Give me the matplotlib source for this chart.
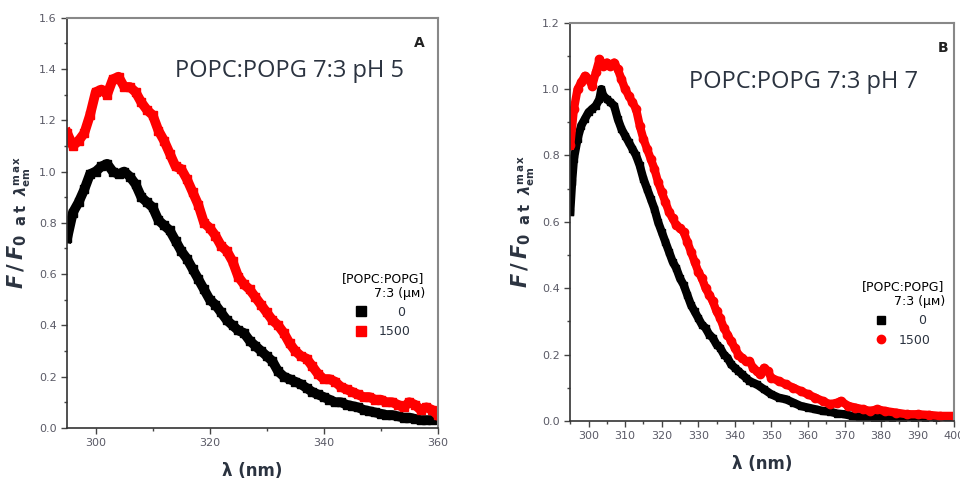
import numpy as np
import matplotlib
matplotlib.use('Agg')
import matplotlib.pyplot as plt
from matplotlib.ticker import MultipleLocator
from matplotlib.lines import Line2D

plt.rcParams['mathtext.fontset'] = 'custom'
plt.rcParams['mathtext.it'] = 'DejaVu Sans:bold:italic'
plt.rcParams['mathtext.rm'] = 'DejaVu Sans:bold'

# panel A, pH 5
wl_a = list(range(295, 360))
a_zero = [0.74, 0.84, 0.88, 0.93, 0.99, 1.00, 1.02, 1.03, 1.00, 0.99,
          1.00, 0.98, 0.95, 0.90, 0.88, 0.86, 0.81, 0.79, 0.77, 0.73,
          0.69, 0.66, 0.62, 0.58, 0.54, 0.50, 0.48, 0.45, 0.42, 0.40,
          0.38, 0.37, 0.34, 0.32, 0.30, 0.28, 0.26, 0.22, 0.20, 0.19,
          0.18, 0.17, 0.155, 0.14, 0.13, 0.12, 0.11, 0.10, 0.10, 0.09,
          0.085, 0.08, 0.07, 0.065, 0.06, 0.055, 0.05, 0.05, 0.045, 0.04,
          0.04, 0.035, 0.03, 0.03, 0.03]
wl_a_red = list(range(295, 361))
a_1500 = [1.15, 1.10, 1.12, 1.15, 1.22, 1.31, 1.32, 1.30, 1.36, 1.37,
          1.33, 1.33, 1.31, 1.27, 1.24, 1.22, 1.16, 1.12, 1.07, 1.02,
          1.01, 0.97, 0.92, 0.87, 0.80, 0.78, 0.75, 0.71, 0.69, 0.65,
          0.59, 0.56, 0.54, 0.51, 0.48, 0.45, 0.42, 0.40, 0.37, 0.33,
          0.30, 0.28, 0.27, 0.24, 0.21, 0.19, 0.19, 0.18, 0.16, 0.15,
          0.14, 0.13, 0.12, 0.12, 0.11, 0.11, 0.10, 0.10, 0.09, 0.08,
          0.10, 0.09, 0.07, 0.08, 0.07, 0.05]

# panel B, pH 7
wl_b = [295, 295.5, 296, 297, 298, 299, 300, 301, 302, 303, 303.5, 304, 305, 306,
        307, 308, 309, 310, 311, 312, 313, 314, 315, 316, 317, 318, 319, 320,
        321, 322, 323, 324, 325, 326, 327, 328, 329, 330, 331, 332, 333, 334,
        335, 336, 337, 338, 339, 340, 341, 342, 343, 344, 345, 346, 348, 350,
        352, 354, 356, 358, 360, 362, 364, 366, 368, 370, 372, 374, 376, 378,
        380, 383, 386, 389, 392, 395, 398, 400]
b_zero = [0.63, 0.72, 0.79, 0.85, 0.89, 0.91, 0.93, 0.94, 0.95, 0.97, 1.00, 0.98,
          0.97, 0.96, 0.95, 0.91, 0.88, 0.86, 0.84, 0.82, 0.80, 0.77, 0.73, 0.70,
          0.67, 0.64, 0.60, 0.57, 0.54, 0.51, 0.48, 0.46, 0.43, 0.41, 0.38, 0.35,
          0.33, 0.31, 0.29, 0.28, 0.26, 0.25, 0.23, 0.22, 0.20, 0.19, 0.17, 0.16,
          0.15, 0.14, 0.13, 0.12, 0.115, 0.11, 0.095, 0.08, 0.07, 0.065, 0.055,
          0.045, 0.04, 0.035, 0.03, 0.028, 0.022, 0.02, 0.015, 0.013, 0.012, 0.01,
          0.01, 0.008, 0.006, 0.005, 0.005, 0.008, 0.012, 0.012]
wl_b_red = list(range(295, 350)) + [350, 352, 354, 356, 358, 360, 362, 364, 366,
                                    368, 369, 371, 373, 375, 377, 379, 381, 384,
                                    387, 390, 393, 396, 400]
b_1500 = [0.83, 0.94, 1.00, 1.02, 1.04, 1.03, 1.01, 1.05, 1.09, 1.07, 1.08, 1.07,
          1.08, 1.06, 1.03, 1.00, 0.98, 0.96, 0.94, 0.89, 0.85, 0.82, 0.79, 0.76,
          0.72, 0.69, 0.66, 0.63, 0.61, 0.59, 0.58, 0.57, 0.54, 0.51, 0.48, 0.45,
          0.43, 0.40, 0.38, 0.36, 0.33, 0.31, 0.28, 0.26, 0.24, 0.22, 0.20, 0.19,
          0.18, 0.18, 0.16, 0.15, 0.14, 0.16, 0.15,
          0.13, 0.12, 0.11, 0.10, 0.09, 0.08, 0.07, 0.06, 0.05, 0.055, 0.06, 0.045,
          0.04, 0.035, 0.03, 0.035, 0.03, 0.025, 0.02, 0.02, 0.018, 0.015, 0.015]

tick_col = '#5a5a66'
text_col = '#2b3340'
narrow = ['Liberation Sans Narrow', 'DejaVu Sans']
ylab = r'$F\,/\,F_{\mathrm{0\ \ a\,t\ \ }\lambda_{\mathrm{em}}^{\mathrm{m\,a\,x}}}$'

fig = plt.figure(figsize=(9.6, 4.94), dpi=100)
ax_a = fig.add_axes([0.070, 0.134, 0.386, 0.830])
ax_b = fig.add_axes([0.594, 0.148, 0.400, 0.806])


def style(ax, xlim, ylim, xmaj, xmin):
	ax.set_xlim(*xlim)
	ax.set_ylim(*ylim)
	ax.xaxis.set_major_locator(MultipleLocator(xmaj))
	ax.xaxis.set_minor_locator(MultipleLocator(xmin))
	ax.yaxis.set_major_locator(MultipleLocator(0.2))
	ax.yaxis.set_minor_locator(MultipleLocator(0.1))
	ax.yaxis.set_major_formatter(matplotlib.ticker.FormatStrFormatter('%.1f'))
	ax.tick_params(which='both', direction='out', colors='#444444', labelcolor=tick_col,
	               labelsize=8, top=False, right=False)
	ax.tick_params(which='major', length=4, width=1)
	ax.tick_params(which='minor', length=2.5, width=1)
	for lab in ax.get_xticklabels() + ax.get_yticklabels():
		lab.set_family(narrow)
	for s in ['left', 'bottom']:
		ax.spines[s].set_color('#333333')
		ax.spines[s].set_linewidth(1.2)
	for s in ['top', 'right']:
		ax.spines[s].set_color('#888888')
		ax.spines[s].set_linewidth(1.5)
	ax.set_xlabel('λ (nm)', fontsize=12, fontweight='bold', color=text_col, family=narrow)
	ax.set_ylabel(ylab, fontsize=15, color=text_col)


# panel A
ax_a.plot(wl_a, a_zero, color='black', lw=7, marker='s', ms=6, label='0')
ax_a.plot(wl_a_red, a_1500, color='#ff0000', lw=7, marker='s', ms=6, label='1500')
style(ax_a, (295, 360), (0, 1.6), 20, 10)
ax_a.xaxis.labelpad = 10
ax_a.text(0.965, 0.955, 'A', transform=ax_a.transAxes, ha='right', va='top',
          fontsize=10, fontweight='bold', color='#222222')
ax_a.text(0.29, 0.855, 'POPC:POPG 7:3 pH 5', transform=ax_a.transAxes, fontsize=17,
          color=text_col, family=['Open Sans', 'DejaVu Sans'])
ax_a.legend(handles=[Line2D([], [], color='black', marker='s', ls='', ms=7),
                     Line2D([], [], color='#ff0000', marker='s', ls='', ms=7)],
            labels=['     0', '1500'], title='[POPC:POPG]\n        7:3 (μм)',
            loc='center left', bbox_to_anchor=(0.71, 0.3), frameon=False,
            prop={'family': narrow, 'size': 9}, title_fontproperties={'family': narrow, 'size': 9},
            handlelength=0.8, handletextpad=1.0, labelcolor=text_col)

# panel B
ax_b.plot(wl_b, b_zero, color='black', lw=6, marker='s', ms=5, label='0')
ax_b.plot(wl_b_red, b_1500, color='#ff0000', lw=6, marker='o', ms=6, label='1500')
style(ax_b, (295, 400), (0, 1.2), 10, 5)
ax_b.xaxis.labelpad = 10
ax_b.text(0.985, 0.955, 'B', transform=ax_b.transAxes, ha='right', va='top',
          fontsize=10, fontweight='bold', color='#222222')
ax_b.text(0.31, 0.835, 'POPC:POPG 7:3 pH 7', transform=ax_b.transAxes, fontsize=17,
          color=text_col, family=['Open Sans', 'DejaVu Sans'])
ax_b.legend(handles=[Line2D([], [], color='black', marker='s', ls='', ms=6),
                     Line2D([], [], color='#ff0000', marker='o', ls='', ms=6)],
            labels=['     0', '1500'], title='[POPC:POPG]\n        7:3 (μм)',
            loc='center left', bbox_to_anchor=(0.73, 0.27), frameon=False,
            prop={'family': narrow, 'size': 9}, title_fontproperties={'family': narrow, 'size': 9},
            handlelength=0.8, handletextpad=1.0, labelcolor=text_col)

fig.savefig('out.png', dpi=100)
